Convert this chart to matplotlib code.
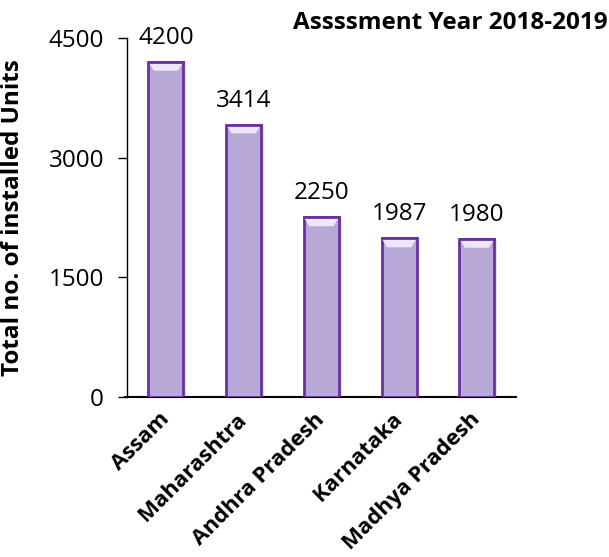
import matplotlib.pyplot as plt
from matplotlib.patches import Polygon

states = ["Assam", "Maharashtra", "Andhra Pradesh", "Karnataka", "Madhya Pradesh"]
units = [4200, 3414, 2250, 1987, 1980]
yticks = [0, 1500, 3000, 4500]

plt.rcParams['font.family'] = ['Open Sans', 'DejaVu Sans']

fig = plt.figure(figsize=(6.09, 5.57), dpi=100)
ax = fig.add_axes([0.2085, 0.2873, 0.6385, 0.6445])

x = range(len(states))
bars = ax.bar(x, units, width=0.45, color="#b7a8d8", edgecolor="#6b2fa0", linewidth=2, zorder=3)

# soft shadow and top bevel like the office chart
for b in bars:
    x0, w, h = b.get_x(), b.get_width(), b.get_height()
    ax.add_patch(plt.Rectangle((x0 + 0.035, -20), w, h, color="#000000", alpha=0.12, zorder=2, lw=0))
    d = 0.07
    bev = 110
    ax.add_patch(Polygon([(x0, h), (x0 + w, h), (x0 + w - d, h - bev), (x0 + d, h - bev)],
                         closed=True, facecolor="#ece6f6", edgecolor="none", zorder=4))
    ax.plot([x0 + 0.005, x0 + w - 0.005], [h, h], color="#6b2fa0", lw=2, zorder=5)

for i, v in enumerate(units):
    ax.annotate(str(v), (i, v), xytext=(0, 13), textcoords="offset points",
                ha="center", va="baseline", fontsize=17.5)

ax.set_ylim(0, 4500)
ax.set_xlim(-0.5, len(states) - 0.5)
ax.set_yticks(yticks)
ax.set_yticklabels([str(t) for t in yticks], fontsize=17.5)
ax.set_xticks(list(x))
ax.set_xticklabels(states, rotation=45, ha="right", va="center", rotation_mode="anchor",
                   fontsize=16, fontweight="bold")
ax.tick_params(axis="x", length=0, pad=14)
ax.tick_params(axis="y", direction="out", length=6.5, width=1, pad=10)

for s in ["top", "right"]:
    ax.spines[s].set_visible(False)
ax.spines["left"].set_linewidth(1)
ax.spines["bottom"].set_linewidth(1.5)
ax.spines["bottom"].set_bounds(-0.52, 4.5)

ax.set_ylabel("Total no. of installed Units", fontsize=17.5, fontweight="bold")
ax.yaxis.set_label_coords(-0.263, 0.5)
fig.text(0.997, 0.948, "Assssment Year 2018-2019", ha="right", va="baseline", fontsize=17.5, fontweight="bold")

fig.savefig("out.png", dpi=100)
